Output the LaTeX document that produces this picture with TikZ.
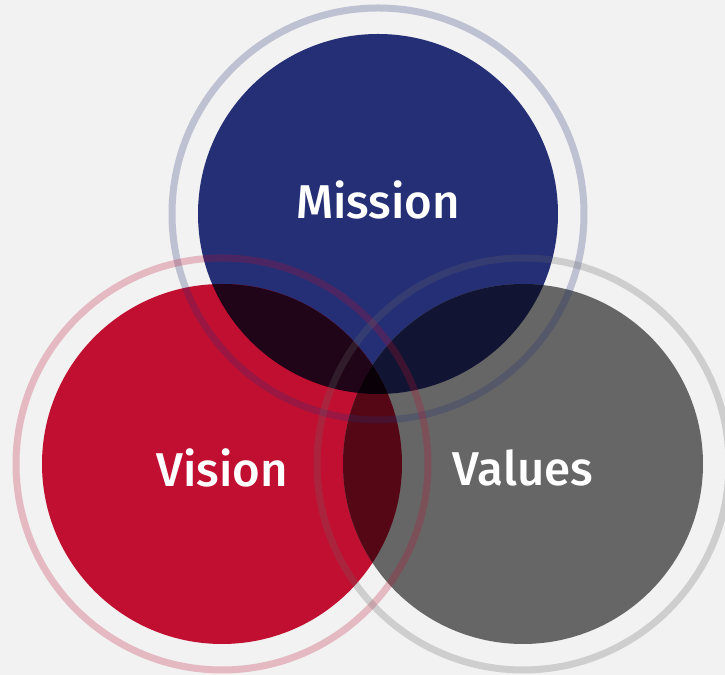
\documentclass[tikz,border=0pt]{standalone}
\usepackage{fontspec}
\setmainfont{Fira Sans}[BoldFont={Fira Sans Medium}]
\usepackage{tikz}

\definecolor{bgray}{RGB}{242,242,242}
\definecolor{mblue}{RGB}{37,47,117}
\definecolor{vred}{RGB}{193,15,49}
\definecolor{vgray}{RGB}{102,102,102}
\definecolor{mvdark}{RGB}{32,4,24}
\definecolor{mgdark}{RGB}{17,21,51}
\definecolor{rgdark}{RGB}{85,7,22}
\definecolor{alldark}{RGB}{10,0,8}

\begin{document}
\begin{tikzpicture}[x=0.02cm,y=0.02cm,
  disc/.style={fill=#1},
  ring/.style={draw=#1,draw opacity=.25,line width=7*0.02cm},
  lbl/.style={text=white,font=\bfseries\fontsize{27}{30}\selectfont}]
\useasboundingbox (0,0) rectangle (725,675);
\fill[bgray] (0,0) rectangle (725,675);
\coordinate (m) at (378,461);
\coordinate (vi) at (222,211);
\coordinate (va) at (523,211);
% the three discs
\fill[disc=mblue] (m) circle[radius=180];
\fill[disc=vred] (vi) circle[radius=180];
\fill[disc=vgray] (va) circle[radius=180];
% overlaps
\begin{scope}
  \clip (m) circle[radius=180];
  \fill[disc=mvdark] (vi) circle[radius=180];
  \fill[disc=mgdark] (va) circle[radius=180];
\end{scope}
\begin{scope}
  \clip (vi) circle[radius=180];
  \fill[disc=rgdark] (va) circle[radius=180];
  \clip (va) circle[radius=180];
  \fill[disc=alldark] (m) circle[radius=180];
\end{scope}
% outer rings
\draw[ring=mblue] (m) circle[radius=206];
\draw[ring=vred] (vi) circle[radius=206];
\draw[ring=vgray] (va) circle[radius=206];
\node[lbl] (mission) at ([yshift=8]m) {Mission};
\node[lbl] (vision) at ([yshift=-2]vi) {Vision};
\node[lbl] (values) at ([yshift=-2]va) {Values};
\end{tikzpicture}
\end{document}
